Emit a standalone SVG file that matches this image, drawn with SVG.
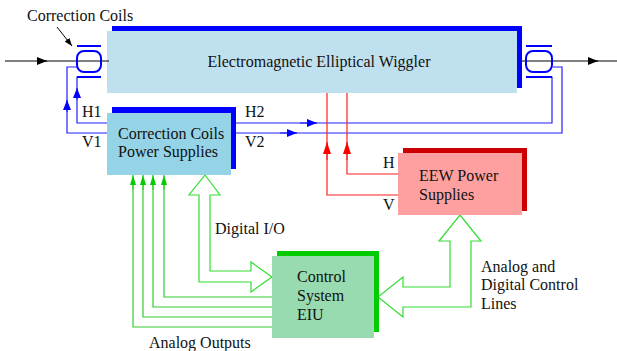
<svg xmlns="http://www.w3.org/2000/svg" width="617" height="351" viewBox="0 0 617 351">
  <defs>
    <marker id="ah-black" viewBox="0 0 10 8" refX="10" refY="4" markerWidth="10" markerHeight="8" markerUnits="userSpaceOnUse" orient="auto">
      <path d="M0,0 L10,4 L0,8 Z" fill="#000"/>
    </marker>
    <marker id="ah-small" viewBox="0 0 8 6" refX="8" refY="3" markerWidth="8" markerHeight="6" markerUnits="userSpaceOnUse" orient="auto">
      <path d="M0,0 L8,3 L0,6 Z" fill="#000"/>
    </marker>
    <marker id="ah-blue" viewBox="0 0 10 8" refX="10" refY="4" markerWidth="10" markerHeight="8" markerUnits="userSpaceOnUse" orient="auto">
      <path d="M0,0 L10,4 L0,8 Z" fill="#0000ff"/>
    </marker>
    <marker id="ah-red" viewBox="0 0 12 8" refX="12" refY="4" markerWidth="12" markerHeight="8" markerUnits="userSpaceOnUse" orient="auto">
      <path d="M0,0 L12,4 L0,8 Z" fill="#ff0000"/>
    </marker>
    <marker id="ah-green" viewBox="0 0 10 6" refX="10" refY="3" markerWidth="10" markerHeight="6" markerUnits="userSpaceOnUse" orient="auto">
      <path d="M0,0 L10,3 L0,6 Z" fill="#00cc00"/>
    </marker>
  </defs>
  <style>
    text { font-family: "Liberation Serif", "Times New Roman", serif; font-size: 16px; fill: #111; }
    .beam { stroke: #000; stroke-width: 1; fill: none; }
    .blue { stroke: #2020ff; stroke-width: 1.2; fill: none; }
    .coil { stroke: #0000ff; stroke-width: 2; fill: none; }
    .red { stroke: #ff2020; stroke-width: 1.2; fill: none; }
    .green { stroke: #33cc33; stroke-width: 1.2; fill: none; }
    .hollow { stroke: #33dd33; stroke-width: 1.2; fill: #fff; }
  </style>

  <rect width="617" height="351" fill="#fff"/>

  <!-- connectors -->
  <g id="connectors">
    <!-- beam line -->
    <line class="beam" x1="5" y1="61" x2="47" y2="61" marker-end="url(#ah-black)"/>
    <line class="beam" x1="45" y1="61" x2="108" y2="61"/>
    <line class="beam" x1="517" y1="61" x2="598" y2="61" marker-end="url(#ah-black)"/>
    <line class="beam" x1="596" y1="61" x2="617" y2="61"/>
    <!-- label pointer -->
    <line class="beam" x1="57" y1="27" x2="72" y2="46" marker-end="url(#ah-small)"/>

    <!-- H1 / V1 from correction supplies to left coil -->
    <path class="blue" d="M107,123 H77 V77 H101"/>
    <line class="blue" x1="77" y1="100" x2="77" y2="88" marker-end="url(#ah-blue)"/>
    <path class="blue" d="M107,133 H67 V67 H77"/>
    <line class="blue" x1="67" y1="112" x2="67" y2="100" marker-end="url(#ah-blue)"/>

    <!-- H2 / V2 to right coil -->
    <path class="blue" d="M236,123 H552 V77 H526"/>
    <line class="blue" x1="300" y1="123" x2="317" y2="123" marker-end="url(#ah-blue)"/>
    <path class="blue" d="M236,133 H562 V67 H553"/>
    <line class="blue" x1="280" y1="133" x2="297" y2="133" marker-end="url(#ah-blue)"/>

    <!-- EEW power supply feeds -->
    <path class="red" d="M398,195 H327 V93"/>
    <line class="red" x1="327" y1="160" x2="327" y2="142" marker-end="url(#ah-red)"/>
    <path class="red" d="M398,174 H347 V93"/>
    <line class="red" x1="347" y1="160" x2="347" y2="142" marker-end="url(#ah-red)"/>

    <!-- analog outputs -->
    <path class="green" d="M272,297 H164 V185"/>
    <line class="green" x1="164" y1="190" x2="164" y2="175" marker-end="url(#ah-green)"/>
    <path class="green" d="M272,307 H153 V185"/>
    <line class="green" x1="153" y1="190" x2="153" y2="175" marker-end="url(#ah-green)"/>
    <path class="green" d="M272,317 H143 V185"/>
    <line class="green" x1="143" y1="190" x2="143" y2="175" marker-end="url(#ah-green)"/>
    <path class="green" d="M272,327 H133 V185"/>
    <line class="green" x1="133" y1="190" x2="133" y2="175" marker-end="url(#ah-green)"/>

    <!-- digital I/O bus -->
    <path class="hollow" d="M205,175 L220,195 H210 V271 H251 V262 L272,277 L251,292 V282 H199 V195 H189 Z"/>
    <!-- analog and digital control bus -->
    <path class="hollow" d="M460,215 L481,241 H471 V307 H403 V317 L378,297 L403,277 V287 H450 V241 H439 Z"/>
  </g>

  <!-- wiggler -->
  <g id="wiggler">
    <rect x="112" y="26" width="410" height="62" fill="#0000ff"/>
    <rect x="107" y="31" width="410" height="62" fill="#bfe0ef"/>
    <line class="beam" x1="107" y1="61" x2="109" y2="61"/>
    <text x="319" y="67" text-anchor="middle">Electromagnetic Elliptical Wiggler</text>
  </g>

  <!-- left correction coil -->
  <g id="coil-left">
    <line class="coil" x1="77" y1="46" x2="101" y2="46"/>
    <rect class="coil" x="77" y="51" width="24" height="21" rx="7"/>
    <line class="coil" x1="77" y1="77" x2="101" y2="77"/>
  </g>

  <!-- right correction coil -->
  <g id="coil-right">
    <line class="coil" x1="526" y1="46" x2="552" y2="46"/>
    <rect class="coil" x="526" y="51" width="26" height="21" rx="7"/>
    <line class="coil" x1="526" y1="77" x2="552" y2="77"/>
  </g>

  <!-- correction coils power supplies -->
  <g id="correction-supplies">
    <rect x="112" y="107" width="124" height="62" fill="#0000ff"/>
    <rect x="107" y="113" width="124" height="62" fill="#95d3e6"/>
    <text x="118" y="139">Correction Coils</text>
    <text x="118" y="157">Power Supplies</text>
  </g>

  <!-- EEW power supplies -->
  <g id="eew-supplies">
    <rect x="403" y="148" width="124" height="63" fill="#cc0000"/>
    <rect x="398" y="153" width="124" height="62" fill="#ffa0a0"/>
    <text x="419" y="181">EEW Power</text>
    <text x="419" y="200">Supplies</text>
  </g>

  <!-- control system -->
  <g id="control-system">
    <rect x="277" y="251" width="102" height="81" fill="#00cc00"/>
    <rect x="272" y="256" width="102" height="82" fill="#99dbb0"/>
    <text x="297" y="282">Control</text>
    <text x="297" y="301">System</text>
    <text x="297" y="320">EIU</text>
  </g>

  <!-- labels -->
  <g id="labels">
    <text x="27" y="21">Correction Coils</text>
    <text x="82" y="117">H1</text>
    <text x="82" y="147">V1</text>
    <text x="245" y="117">H2</text>
    <text x="245" y="147">V2</text>
    <text x="383" y="168">H</text>
    <text x="383" y="210">V</text>
    <text x="215" y="234">Digital I/O</text>
    <text x="481" y="272">Analog and</text>
    <text x="481" y="290">Digital Control</text>
    <text x="481" y="309">Lines</text>
    <text x="149" y="348">Analog Outputs</text>
  </g>
</svg>
